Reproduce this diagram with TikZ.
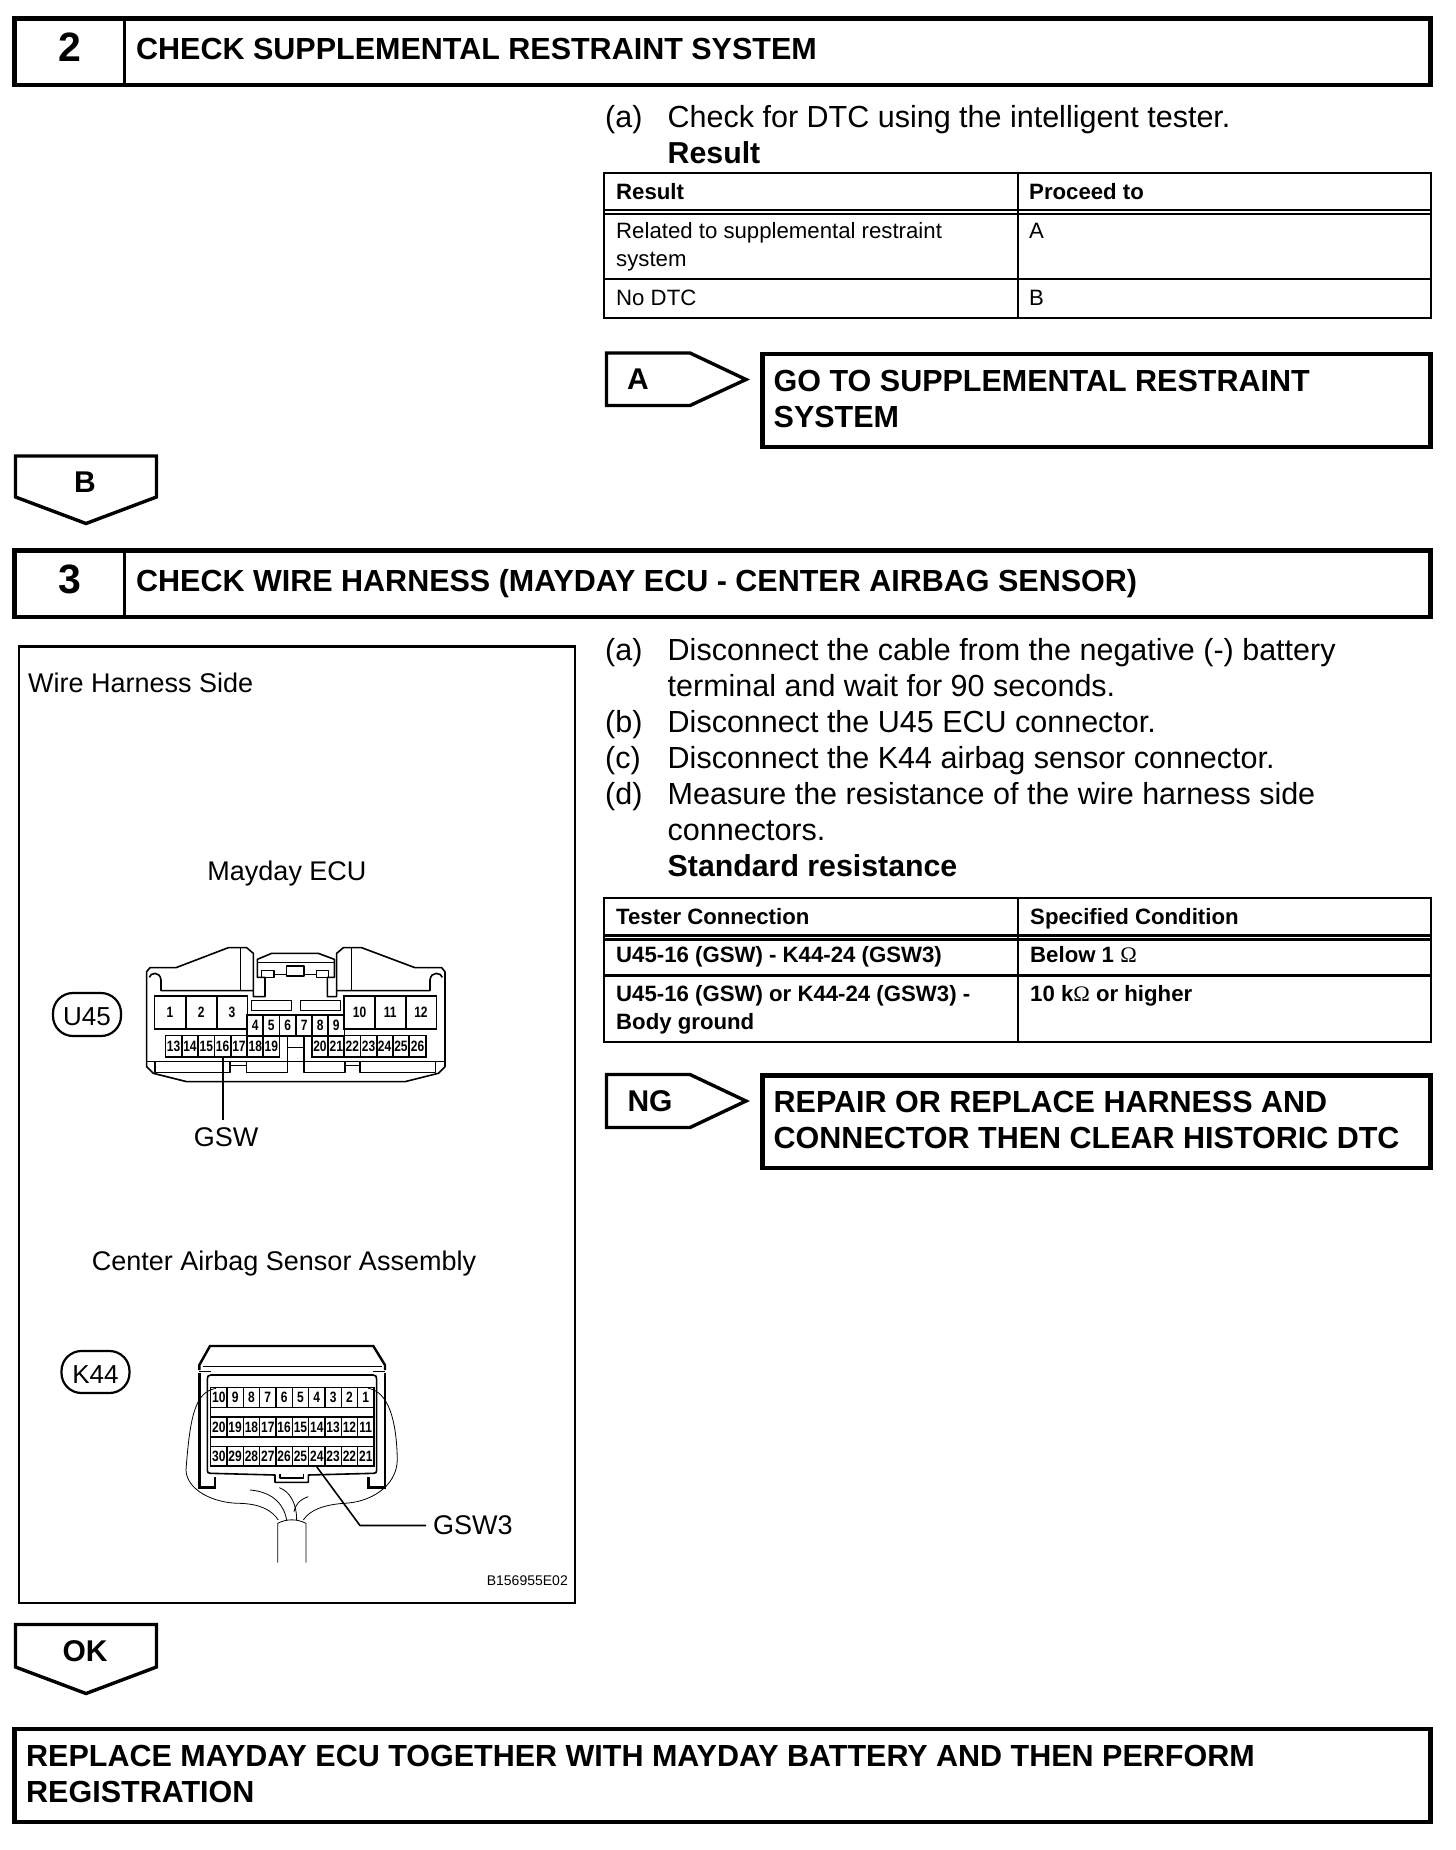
\documentclass[tikz,border=0pt]{standalone}
\usepackage{fontspec}
\setmainfont{Liberation Sans}
\newfontfamily\pinfont[FakeStretch=.8]{Liberation Sans}
\newfontfamily\ohmfont{Liberation Serif}
\newcommand{\ohmsign}{{\ohmfont\mdseries Ω}}
\usetikzlibrary{positioning}
\tikzset{
	frame/.style={line width=4.4pt, line join=miter},
	arrowtag/.style={line width=3.4pt, line join=miter},
	tabline/.style={line width=2.2pt},
	conn/.style={line width=1.6pt, line join=round},
	thinline/.style={line width=.8pt},
	head/.style={anchor=base west, inner sep=0, font=\fontsize{30.5}{36}\selectfont\bfseries},
	num/.style={inner sep=0, font=\fontsize{41}{41}\selectfont\bfseries},
	body/.style={anchor=base west, inner sep=0, font=\fontsize{30.5}{36}\selectfont},
	bodyb/.style={body, font=\fontsize{30.3}{36}\selectfont\bfseries},
	cell/.style={anchor=base west, inner sep=0, font=\fontsize{22.2}{28}\selectfont},
	cellb/.style={cell, font=\fontsize{22.2}{28}\selectfont\bfseries},
	tag/.style={inner sep=0, font=\fontsize{30}{30}\selectfont\bfseries},
	fig/.style={inner sep=0, font=\fontsize{27}{30}\selectfont},
	badge/.style={draw, line width=2.2pt, rounded corners=20pt, inner sep=0, text height=22pt, font=\fontsize{26}{30}\selectfont},
	pin/.style={draw, line width=1.6pt, inner sep=0, font=\pinfont\fontsize{15}{15}\selectfont\bfseries},
}
\begin{document}
\begin{tikzpicture}[x=1pt,y=-1pt]
	\useasboundingbox (0,0) rectangle (1456,1850);

	% step 2
	\draw[frame] (14.5,18.6) rectangle (1430.5,84.8);
	\draw[arrowtag] (124.5,18.6) -- (124.5,84.8);
	\node[num] (numtwo) at (70,47) {2};
	\node[head] (headtwo) at (136,59) {CHECK SUPPLEMENTAL RESTRAINT SYSTEM};

	\node[body] (lineA) at (605,127) {(a)};
	\node[body] (lineAt) at (667.5,127) {Check for DTC using the intelligent tester.};
	\node[bodyb] (lineAr) at (667.5,163) {Result};

	\draw[tabline] (604,173) rectangle (1431,318);
	\draw[tabline] (604,210) -- (1431,210);
	\draw[tabline] (604,214) -- (1431,214);
	\draw[tabline] (604,278.6) -- (1431,278.6);
	\draw[tabline] (1018,173) -- (1018,318);
	\node[cellb] (resh) at (616,199) {Result};
	\node[cellb] (proh) at (1029,199) {Proceed to};
	\node[cell] (resa) at (616,238.5) {Related to supplemental restraint};
	\node[cell] (resb) at (616,266) {system};
	\node[cell] (proa) at (1029,238.5) {A};
	\node[cell] (resc) at (616,305) {No DTC};
	\node[cell] (prob) at (1029,305) {B};

	\draw[arrowtag] (606.5,353) -- (690,353) -- (746,379.5) -- (690,405.5) -- (606.5,405.5) -- cycle;
	\node[tag] (tagA) at (638,379) {A};
	\draw[frame] (762.5,354) rectangle (1430.5,447);
	\node[head] (goa) at (773.5,391) {GO TO SUPPLEMENTAL RESTRAINT};
	\node[head] (gob) at (773.5,427) {SYSTEM};

	\draw[arrowtag] (15.5,456) -- (156.5,456) -- (156.5,497) -- (86,523.5) -- (15.5,497) -- cycle;
	\node[tag] (tagB) at (85,482) {B};

	% step 3
	\draw[frame] (14.5,550.5) rectangle (1430.5,616.7);
	\draw[arrowtag] (124.5,550.5) -- (124.5,616.7);
	\node[num] (numthree) at (70,579.5) {3};
	\node[head] (headthree) at (136,591) {CHECK WIRE HARNESS (MAYDAY ECU - CENTER AIRBAG SENSOR)};

	\node[body] (lineB) at (605,660) {(a)};
	\node[body] (lineBt) at (667.5,660) {Disconnect the cable from the negative (-) battery};
	\node[body] (lineC) at (667.5,696) {terminal and wait for 90 seconds.};
	\node[body] (lineD) at (605,732) {(b)};
	\node[body] (lineDt) at (667.5,732) {Disconnect the U45 ECU connector.};
	\node[body] (lineE) at (605,768) {(c)};
	\node[body] (lineEt) at (667.5,768) {Disconnect the K44 airbag sensor connector.};
	\node[body] (lineF) at (605,804) {(d)};
	\node[body] (lineFt) at (667.5,804) {Measure the resistance of the wire harness side};
	\node[body] (lineG) at (667.5,840) {connectors.};
	\node[bodyb] (lineH) at (667.5,876) {Standard resistance};

	\draw[tabline] (604,898) rectangle (1431,1042);
	\draw[tabline] (604,935.5) -- (1431,935.5);
	\draw[tabline] (604,939.5) -- (1431,939.5);
	\draw[tabline] (604,975.5) -- (1431,975.5);
	\draw[tabline] (1018,898) -- (1018,1042);
	\node[cellb] (tesh) at (616,924) {Tester Connection};
	\node[cellb] (spch) at (1030,924) {Specified Condition};
	\node[cellb] (tesa) at (616,962) {U45-16 (GSW) - K44-24 (GSW3)};
	\node[cellb] (spca) at (1030,962) {Below 1 \ohmsign};
	\node[cellb] (tesb) at (616,1001) {U45-16 (GSW) or K44-24 (GSW3) -};
	\node[cellb] (tesc) at (616,1029) {Body ground};
	\node[cellb] (spcb) at (1030,1001) {10 k\ohmsign{} or higher};

	\draw[arrowtag] (606.5,1074.5) -- (690,1074.5) -- (746,1101) -- (690,1127.5) -- (606.5,1127.5) -- cycle;
	\node[tag] (tagNG) at (650,1101) {NG};
	\draw[frame] (762.5,1075.5) rectangle (1430.5,1168);
	\node[head] (repa) at (773.5,1112) {REPAIR OR REPLACE HARNESS AND};
	\node[head] (repb) at (773.5,1148) {CONNECTOR THEN CLEAR HISTORIC DTC};

	% illustration
	\draw[tabline] (19,646.5) rectangle (575,1603);
	\node[fig, anchor=base west] (sidelabel) at (28,692) {Wire Harness Side};
	\node[fig] (ecu) at (287,873.5) {Mayday ECU};
	\node[badge, minimum width=68pt, minimum height=43pt] (uff) at (87,1014.5) {U45};
	\node[fig] (gsw) at (226,1137) {GSW};
	\node[fig] (airbag) at (284,1263.5) {Center Airbag Sensor Assembly};
	\node[badge, minimum width=68pt, minimum height=42pt] (kff) at (95.5,1372) {K44};
	\node[fig, anchor=west] (gswt) at (433,1525.5) {GSW3};
	\node[anchor=east, inner sep=0, font=\fontsize{14}{14}\selectfont] (partno) at (568,1581) {B156955E02};
	\coordinate (gswend) at ([yshift=7pt]gsw.north);

	% U45 connector
	\begin{scope}[shift={(100,900)},x=.3333pt,y=-.3333pt]
		\draw[conn] (260,545) -- (160,520) -- (140,500) -- (140,215) -- (150,203) -- (228,203) -- (385,143) -- (440,143) -- (460,160) -- (460,290) -- (495,290) -- (495,232) -- (472,232) -- (472,178) -- (515,160) -- (655,160) -- (703,178) -- (703,232) -- (682,232) -- (682,290) -- (710,290) -- (710,160) -- (730,143) -- (785,143) -- (945,203) -- (1025,203) -- (1035,215) -- (1035,500) -- (1015,520) -- (915,545) -- cycle;
		\draw[conn] (148,232) .. controls (150,218) and (180,212) .. (183,240) -- (183,272) -- (460,272);
		\draw[conn] (1027,232) .. controls (1025,218) and (993,212) .. (990,240) -- (990,272) -- (710,272);
		\draw[thinline] (420,143) -- (420,272);
		\draw[thinline] (755,143) -- (755,272);
		\draw[thinline] (472,188) -- (703,188);
		\draw[conn] (485,212) rectangle (522,232);
		\draw[conn] (650,212) rectangle (686,232);
		\draw[conn] (560,198) rectangle (612,228);
		\draw[conn] (522,224) -- (560,224);
		\draw[conn] (612,224) -- (650,224);
		\draw[conn] (454,302) rectangle (574,332);
		\draw[conn] (602,302) rectangle (721,332);
		\draw[conn] (140,485) -- (1035,485);
		\draw[conn] (165,485) -- (165,517) -- (390,517) -- (390,485);
		\draw[conn] (440,485) -- (440,517) -- (562,517) -- (562,407);
		\draw[conn] (612,407) -- (612,517) -- (735,517) -- (735,485);
		\draw[conn] (780,485) -- (780,517) -- (1007,517) -- (1007,485);
		\draw[conn] (390,497) -- (440,497);
		\draw[conn] (735,497) -- (780,497);
		\draw[conn] (562,443) -- (612,443);
		\foreach \n/\x in {1/210,2/304,3/396}
			\node[pin, minimum width=31pt, minimum height=33pt] (u\n) at (\x,338) {\n};
		\foreach \n/\x in {10/779,11/871,12/963}
			\node[pin, minimum width=31pt, minimum height=33pt] (u\n) at (\x,337) {\n};
		\foreach \n/\x in {4/466,5/514,6/563,7/613,8/661,9/709}
			\node[pin, minimum width=16.2pt, minimum height=21pt, text depth=-3pt] (u\n) at (\x,376) {\n};
		\foreach \n/\x in {13/221,14/270,15/319,16/368,17/417,18/466,19/514,20/660,21/709,22/757,23/806,24/854,25/903,26/953}
			\node[pin, minimum width=16.2pt, minimum height=21.3pt] (u\n) at (\x,439) {\n};
	\end{scope}
	\draw[line width=2pt] (u16.south) -- (u16.south |- gswend);

	% K44 connector
	\begin{scope}[shift={(140,1320)},x=.3333pt,y=-.3333pt]
		\draw[line width=2.4pt] (178,150) -- (178,135) -- (210,78) -- (700,78) -- (735,135) -- (735,150);
		\draw[thinline] (188,140) -- (725,140);
		\draw[conn] (178,155) -- (212,155);
		\draw[conn] (735,155) -- (700,155);
		\draw[line width=2.4pt] (178,160) -- (178,503) -- (225,503) -- (225,470);
		\draw[line width=2.4pt] (735,160) -- (735,503) -- (685,503) -- (685,470);
		\draw[conn] (212,165) -- (700,165) .. controls (708,165) and (710,170) .. (710,178) -- (710,450) .. controls (710,458) and (708,460) .. (700,460) -- (505,465) -- (505,487) -- (405,487) -- (405,465) -- (212,460) .. controls (204,460) and (202,458) .. (202,450) -- (202,178) .. controls (202,170) and (204,165) .. (212,165);
		\draw[conn] (420,462) -- (420,474) -- (490,474) -- (490,462);
		\draw[conn] (212,200) -- (212,434);
		\draw[conn] (702,200) -- (702,434);
		\foreach \n [evaluate=\n as \x using {702-49*\n+24.5}] in {1,...,10}
			\node[pin, minimum width=16.3pt, minimum height=20pt] (k\n) at (\x,233) {\n};
		\foreach \n [evaluate=\n as \x using {702-49*(\n-10)+24.5}] in {11,...,20}
			\node[pin, minimum width=16.3pt, minimum height=19.5pt] (k\n) at (\x,321) {\n};
		\foreach \n [evaluate=\n as \x using {702-49*(\n-20)+24.5}] in {21,...,30}
			\node[pin, minimum width=16.3pt, minimum height=19.5pt] (k\n) at (\x,409) {\n};
		\draw[thinline] (228,205) .. controls (165,215) and (150,290) .. (138,450) .. controls (140,510) and (220,550) .. (300,550) .. controls (360,552) and (395,570) .. (415,600);
		\draw[thinline] (685,205) .. controls (745,215) and (770,300) .. (772,420) .. controls (770,500) and (690,548) .. (610,550) .. controls (550,555) and (510,570) .. (490,600);
		\draw[thinline] (330,510) .. controls (390,515) and (430,545) .. (440,600);
		\draw[thinline] (418,503) .. controls (450,515) and (470,550) .. (470,600);
		\draw[thinline] (505,530) .. controls (480,538) and (465,555) .. (462,575);
		\draw[thinline] (413,728) -- (413,610) .. controls (440,596) and (470,596) .. (498,610) -- (498,728);
		\coordinate (kbend) at (660,620);
	\end{scope}
	\draw[conn] (k24.south) -- (kbend |- gswt.west) -- ([xshift=-7pt]gswt.west);

	% last
	\draw[arrowtag] (15.5,1624.5) -- (156.5,1624.5) -- (156.5,1667) -- (86,1693.5) -- (15.5,1667) -- cycle;
	\node[tag] (tagOK) at (85,1651) {OK};
	\draw[frame] (14.5,1729) rectangle (1430.5,1822);
	\node[head] (fina) at (26,1766) {REPLACE MAYDAY ECU TOGETHER WITH MAYDAY BATTERY AND THEN PERFORM};
	\node[head] (finb) at (26,1802) {REGISTRATION};
\end{tikzpicture}
\end{document}
